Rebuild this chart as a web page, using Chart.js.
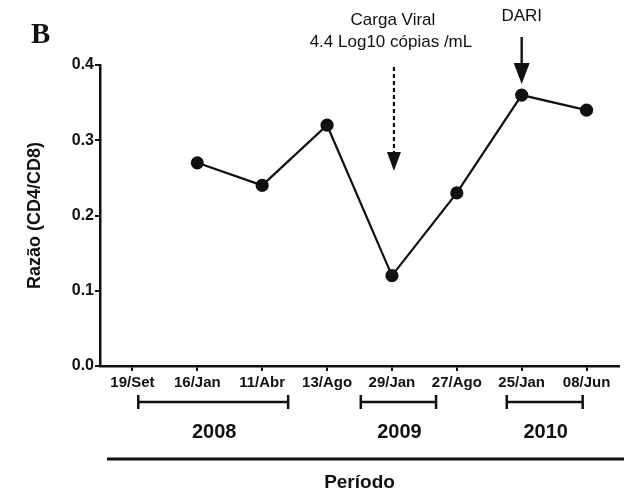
<!DOCTYPE html>
<html><head><meta charset="utf-8">
<script src="https://cdn.jsdelivr.net/npm/chart.js@4.4.1/dist/chart.umd.min.js"></script>
<style>html,body{margin:0;padding:0;background:#fff}canvas{display:block}</style>
</head><body>
<canvas id="c" width="628" height="498"></canvas>
<script>
// ---- data ----
const categories = ['19/Set','16/Jan','11/Abr','13/Ago','29/Jan','27/Ago','25/Jan','08/Jun'];
const ratioValues = [null, 0.27, 0.24, 0.32, 0.12, 0.23, 0.36, 0.34];
const yTickValues = [0.0, 0.1, 0.2, 0.3, 0.4];
const yearLabels = ['2008', '2009', '2010'];
const yearSpanStart = [0.09, 3.52, 5.77];   // category index units
const yearSpanEnd = [2.4, 4.68, 6.94];
const viralLoadText = ['Carga Viral', '4.4 Log10 cópias /mL'];
const viralLoadIndex = 4;
const dariText = 'DARI';
const dariIndex = 6;
const panelLabel = 'B';

const FONT = "'Liberation Sans', Arial, Helvetica, sans-serif";
Chart.defaults.font.family = FONT;
Chart.defaults.color = '#000';

function arrowHead(ctx, x, yBase, yTip, hw) {
  ctx.beginPath();
  ctx.moveTo(x - hw, yBase);
  ctx.lineTo(x + hw, yBase);
  ctx.lineTo(x, yTip);
  ctx.closePath();
  ctx.fill();
}

const extras = {
  id: 'extras',
  afterDraw(chart) {
    const ctx = chart.ctx;
    const xs = chart.scales.x;
    ctx.save();
    ctx.fillStyle = '#111';
    ctx.strokeStyle = '#111';
    // panel label
    ctx.font = "bold 29px 'Liberation Serif', 'Times New Roman', serif";
    ctx.textAlign = 'left';
    ctx.textBaseline = 'alphabetic';
    ctx.fillText(panelLabel, 31, 43);

    // viral load annotation
    const vx = xs.getPixelForValue(viralLoadIndex) + 2;
    ctx.font = '17px ' + FONT;
    ctx.textAlign = 'center';
    ctx.textBaseline = 'middle';
    ctx.fillText(viralLoadText[0], vx - 1, 20);
    ctx.fillText(viralLoadText[1], vx - 3, 42);
    ctx.lineWidth = 2.2;
    ctx.setLineDash([4, 3]);
    ctx.beginPath();
    ctx.moveTo(vx, 67);
    ctx.lineTo(vx, 154);
    ctx.stroke();
    ctx.setLineDash([]);
    arrowHead(ctx, vx, 152, 171, 7);

    // DARI annotation
    const dx = xs.getPixelForValue(dariIndex);
    ctx.fillText(dariText, dx, 16);
    ctx.lineWidth = 2.4;
    ctx.beginPath();
    ctx.moveTo(dx, 37);
    ctx.lineTo(dx, 66);
    ctx.stroke();
    arrowHead(ctx, dx, 63, 84, 8);

    // year brackets
    const by = 402;
    ctx.lineWidth = 2.5;
    for (let i = 0; i < yearLabels.length; i++) {
      const x0 = xs.getPixelForValue(yearSpanStart[i]);
      const x1 = xs.getPixelForValue(yearSpanEnd[i]);
      ctx.beginPath();
      ctx.moveTo(x0, by); ctx.lineTo(x1, by);
      ctx.moveTo(x0, by - 7); ctx.lineTo(x0, by + 7);
      ctx.moveTo(x1, by - 7); ctx.lineTo(x1, by + 7);
      ctx.stroke();
      ctx.font = 'bold 20px ' + FONT;
      ctx.fillText(yearLabels[i], (x0 + x1) / 2 + 1, 432);
    }
    // long period line
    ctx.lineWidth = 2.8;
    ctx.beginPath();
    ctx.moveTo(107, 459);
    ctx.lineTo(624, 459);
    ctx.stroke();
    ctx.restore();
  }
};

new Chart(document.getElementById('c'), {
  type: 'line',
  data: {
    labels: categories,
    datasets: [{
      data: ratioValues,
      borderColor: '#111',
      borderWidth: 2.2,
      pointRadius: 5.5,
      pointHoverRadius: 5.5,
      pointBackgroundColor: '#111',
      pointBorderColor: '#111',
      tension: 0
    }]
  },
  options: {
    responsive: false,
    animation: false,
    events: [],
    layout: { padding: { top: 65, right: 9, bottom: 0, left: 0 } },
    plugins: { legend: { display: false }, tooltip: { enabled: false } },
    scales: {
      x: {
        type: 'category',
        offset: true,
        afterFit(s) { s.height = 132; },
        grid: { display: true, drawOnChartArea: false, drawTicks: true, tickLength: 5, color: '#111', lineWidth: 2, offset: false },
        border: { display: true, color: '#111', width: 2.5 },
        ticks: { font: { size: 15, weight: 'bold' }, color: '#111', padding: 3, maxRotation: 0, autoSkip: false },
        title: { display: true, text: 'Período', font: { size: 19, weight: 'bold' }, color: '#111', padding: { top: 0, bottom: 4 } }
      },
      y: {
        min: 0, max: 0.4,
        afterFit(s) { s.width = 100; },
        afterBuildTicks(s) { s.ticks = yTickValues.map(v => ({ value: v })); },
        grid: { display: true, drawOnChartArea: false, drawTicks: true, tickLength: 5, color: '#111', lineWidth: 2 },
        border: { display: true, color: '#111', width: 2.5 },
        ticks: { font: { size: 16, weight: 'bold' }, color: '#111', padding: 1, callback: v => v.toFixed(1) },
        title: { display: true, text: 'Razão (CD4/CD8)', font: { size: 18, weight: 'bold' }, color: '#111', padding: { top: 24, bottom: 0 } }
      }
    }
  },
  plugins: [extras]
});
</script>
</body></html>
